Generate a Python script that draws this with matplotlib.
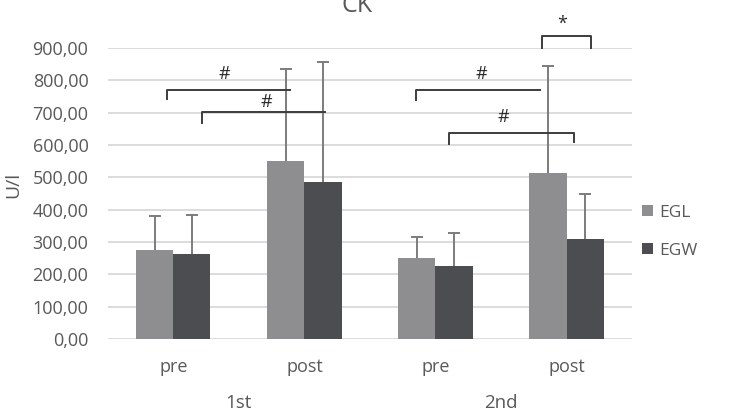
import matplotlib.pyplot as plt
import numpy as np
from matplotlib.ticker import FuncFormatter

plt.rcParams['font.family'] = ['Open Sans', 'DejaVu Sans']

# data
phases = ['pre', 'post', 'pre', 'post']
groups = ['1st', '2nd']
egl = [275, 551, 249, 514]
egl_sd = [105, 284, 66, 329]
egw = [263, 485, 225, 309]
egw_sd = [120, 372, 102, 139]

# significance brackets: (x_left, x_right, y, left tick drop, right tick drop, label, label x, label y)
brackets = [
    (-0.05, 0.89, 771, 30, 0, '#', 0.39, 790),
    (0.22, 1.16, 702, 33, 0, '#', 0.71, 705),
    (1.85, 2.80, 769, 31, 0, '#', 2.35, 790),
    (2.10, 3.06, 638, 36, 30, '#', 2.52, 658),
    (2.81, 3.19, 937, 37, 37, '*', 2.97, 945),
]

fig = plt.figure(figsize=(7.29, 4.16), dpi=100)
ax = fig.add_axes([0.148, 0.185, 0.719, 0.700])

x = np.arange(len(phases))
w = 0.283
c_egl = '#8e8e90'
c_egw = '#4c4d51'
err_c = '#7c7c7c'

ax.bar(x - w / 2, egl, w, color=c_egl, label='EGL', zorder=2)
ax.bar(x + w / 2, egw, w, color=c_egw, label='EGW', zorder=2)
for xs, m, sd in [(x - w / 2, egl, egl_sd), (x + w / 2, egw, egw_sd)]:
    top = np.array(m) + np.array(sd)
    ax.vlines(xs, m, top, color=err_c, lw=1.4, zorder=3)
    ax.plot(xs, top, ls='none', marker='_', ms=9, mew=1.4, color=err_c, zorder=3)

for x1, x2, y, d1, d2, lab, lx, ly in brackets:
    ax.plot([x1, x1, x2, x2], [y - d1, y, y, y - d2], color='#3c3c3c',
            lw=1.4, clip_on=False, zorder=4)
    ax.text(lx, ly, lab, ha='center', va='bottom', fontsize=13,
            color='#2b2b2b', clip_on=False)

ax.set_xlim(-0.5, 3.5)
ax.set_ylim(0, 900)
ax.set_yticks(np.arange(0, 901, 100))
ax.yaxis.set_major_formatter(FuncFormatter(lambda v, p: f'{v:.2f}'.replace('.', ',')))
ax.grid(axis='y', color='#d9d9d9', lw=1.3, zorder=0)
ax.set_axisbelow(True)
for s in ['top', 'right', 'left', 'bottom']:
    ax.spines[s].set_visible(False)
ax.tick_params(axis='both', length=0, labelsize=13, labelcolor='#595959')
ax.tick_params(axis='y', pad=14)
ax.tick_params(axis='x', pad=14)
ax.set_xticks(x)
ax.set_xticklabels(phases)

for i, g in enumerate(groups):
    ax.text(0.5 + 2 * i, -0.22, g, transform=ax.get_xaxis_transform(),
            ha='center', va='center', fontsize=13.5, color='#595959')

ax.set_ylabel('U/l', fontsize=14, color='#595959')
ax.yaxis.set_label_coords(-0.163, 0.53)

fig.text(0.49, 0.971, 'CK', ha='center', va='baseline', fontsize=18, color='#595959')

ax.legend(loc='center left', bbox_to_anchor=(1.0, 0.368), frameon=False,
          fontsize=12.5, labelcolor='#595959', handlelength=0.6, handleheight=0.6,
          handletextpad=0.35, labelspacing=1.25, borderaxespad=0.2)

fig.savefig('out.png', dpi=100)
